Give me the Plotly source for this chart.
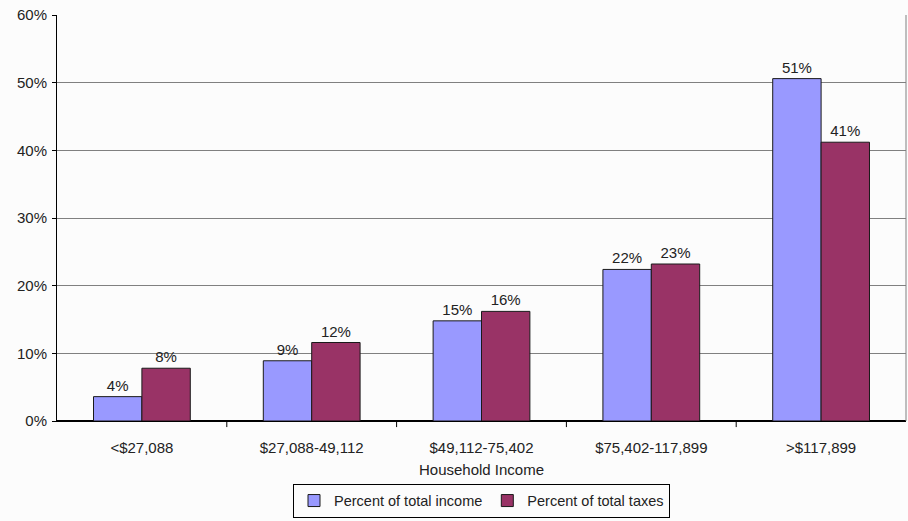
import plotly.graph_objects as go

categories = ["<$27,088", "$27,088-49,112", "$49,112-75,402", "$75,402-117,899", ">$117,899"]
income = [3.6, 8.9, 14.8, 22.4, 50.6]
taxes = [7.8, 11.6, 16.2, 23.2, 41.2]
income_labels = ["4%", "9%", "15%", "22%", "51%"]
taxes_labels = ["8%", "12%", "16%", "23%", "41%"]
y_ticks = [0, 10, 20, 30, 40, 50, 60]
y_tick_text = ["0%", "10%", "20%", "30%", "40%", "50%", "60%"]

font = dict(family="Liberation Sans, Arial, sans-serif", size=15, color="#222222")
legend_font = dict(family="Liberation Sans, Arial, sans-serif", size=14.5, color="#222222")

fig = go.Figure()
fig.add_trace(go.Bar(
    x=categories, y=income, name="Percent of total income",
    marker=dict(color="#9999FF", line=dict(color="#1a1a1a", width=1)),
    text=income_labels, textposition="outside", textfont=font, cliponaxis=False,
))
fig.add_trace(go.Bar(
    x=categories, y=taxes, name="Percent of total taxes",
    marker=dict(color="#993366", line=dict(color="#1a1a1a", width=1)),
    text=taxes_labels, textposition="outside", textfont=font, cliponaxis=False,
))

fig.update_layout(
    width=908, height=521,
    margin=dict(l=57, r=2, t=15, b=100, autoexpand=False),
    paper_bgcolor="#FCFCFC", plot_bgcolor="#FCFCFC",
    font=font,
    barmode="group", bargap=0.43, bargroupgap=0,
    showlegend=True,
    legend=dict(orientation="h", x=0.5, xanchor="center", y=-0.238, yanchor="bottom",
                bordercolor="#000000", borderwidth=1, bgcolor="#FCFCFC",
                font=legend_font, itemwidth=30, traceorder="normal",
                tracegroupgap=0),
    xaxis=dict(
        title=dict(text="Household Income", font=font, standoff=9),
        showline=True, linecolor="#000000", linewidth=1,
        ticks="", showgrid=False, mirror=False, automargin=False,
        tickfont=font, ticklabelstandoff=13,
    ),
    yaxis=dict(
        range=[0, 60], tickvals=y_ticks, ticktext=y_tick_text,
        showline=True, linecolor="#000000", linewidth=1,
        ticks="outside", ticklen=4, tickcolor="#000000",
        showgrid=True, gridcolor="#808080", gridwidth=1,
        zeroline=True, zerolinecolor="#000000", automargin=False,
        tickfont=font, ticklabelstandoff=2,
    ),
)

# tick marks between categories on the x axis
for b in [0.5, 1.5, 2.5, 3.5]:
    fig.add_shape(type="line", xref="x", yref="paper", x0=b, x1=b, y0=0, y1=-0.015,
                  line=dict(color="#000000", width=1))

# right border of plot area
fig.add_shape(type="line", xref="paper", yref="paper", x0=1, x1=1, y0=0, y1=1,
              line=dict(color="#808080", width=1))

fig.write_html("out.html")
